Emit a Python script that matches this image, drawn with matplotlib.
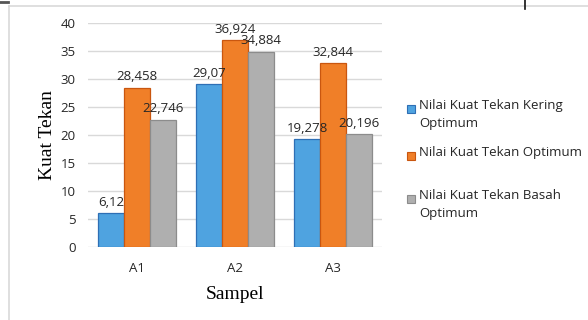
import matplotlib
matplotlib.use("Agg")
import matplotlib.pyplot as plt
import numpy as np
from matplotlib.patches import Rectangle
from matplotlib.lines import Line2D

categories = ["A1", "A2", "A3"]
series_names = [
    "Nilai Kuat Tekan Kering\nOptimum",
    "Nilai Kuat Tekan Optimum",
    "Nilai Kuat Tekan Basah\nOptimum",
]
kering = [6.12, 29.07, 19.278]
optimum = [28.458, 36.924, 32.844]
basah = [22.746, 34.884, 20.196]
value_labels = [
    ["6,12", "29,07", "19,278"],
    ["28,458", "36,924", "32,844"],
    ["22,746", "34,884", "20,196"],
]
yticks = [0, 5, 10, 15, 20, 25, 30, 35, 40]

face_colors = ["#4FA3E0", "#F07F28", "#AFAFAF"]
edge_colors = ["#2E6FB5", "#C9560F", "#8C8C8C"]
text_color = "#262626"
tick_font = "Open Sans"
serif_font = "Liberation Serif"

W, H = 588, 320
fig = plt.figure(figsize=(W / 100, H / 100), dpi=100)
ax = fig.add_axes([88 / W, 73 / H, 294 / W, 224 / H])

x = np.arange(len(categories))
w = 26 / 98
series = [kering, optimum, basah]
for i, vals in enumerate(series):
    pos = x + (i - 1) * w
    ax.bar(pos, vals, width=w, color=face_colors[i], edgecolor=edge_colors[i],
           linewidth=0.9, zorder=3)
    for px, v, lab in zip(pos, vals, value_labels[i]):
        ax.annotate(lab, (px, v), xytext=(0, 3), textcoords="offset points",
                    ha="center", va="bottom", fontsize=9.5, family=tick_font,
                    color=text_color, zorder=4)

ax.set_xlim(-0.5, 2.5)
ax.set_ylim(0, 40)
ax.set_yticks(yticks)
ax.set_yticklabels([str(t) for t in yticks], family=tick_font, fontsize=9.5, color=text_color)
ax.set_xticks(x)
ax.set_xticklabels(categories, family=tick_font, fontsize=9.5, color=text_color)
ax.tick_params(axis="both", length=0)
ax.tick_params(axis="y", pad=9)
ax.tick_params(axis="x", pad=11)
ax.yaxis.grid(True, color="#D9D9D9", linewidth=1.0, zorder=0)
ax.set_axisbelow(True)
for s in ax.spines.values():
    s.set_visible(False)

ax.set_ylabel("Kuat Tekan", family=serif_font, fontsize=14, labelpad=3)
ax.set_xlabel("Sampel", family=serif_font, fontsize=14, labelpad=8)

# legend: square key beside the first line of each entry
entry_y = [109, 156, 199]
for i, (name, yy) in enumerate(zip(series_names, entry_y)):
    fig.add_artist(Rectangle((407 / W, 1 - (yy + 4) / H), 8 / W, 8 / H,
                             transform=fig.transFigure, facecolor=face_colors[i],
                             edgecolor=edge_colors[i], linewidth=0.8))
    fig.text(419 / W, 1 - (yy - 10) / H, name, family=tick_font, fontsize=9.5,
             color=text_color, va="top", ha="left", linespacing=1.45)

# outer frame of the chart area
fig.add_artist(Line2D([9 / W, 1], [1 - 6 / H, 1 - 6 / H], transform=fig.transFigure,
                      color="#D9D9D9", linewidth=1.2))
fig.add_artist(Line2D([9 / W, 9 / W], [0, 1 - 6 / H], transform=fig.transFigure,
                      color="#D9D9D9", linewidth=1.2))
fig.add_artist(Line2D([0, 8 / W], [1 - 1.5 / H, 1 - 1.5 / H], transform=fig.transFigure,
                      color="#555555", linewidth=2))
fig.add_artist(Line2D([525 / W, 525 / W], [1, 1 - 9 / H], transform=fig.transFigure,
                      color="#111111", linewidth=1.2))

fig.savefig("out.png", dpi=100)
